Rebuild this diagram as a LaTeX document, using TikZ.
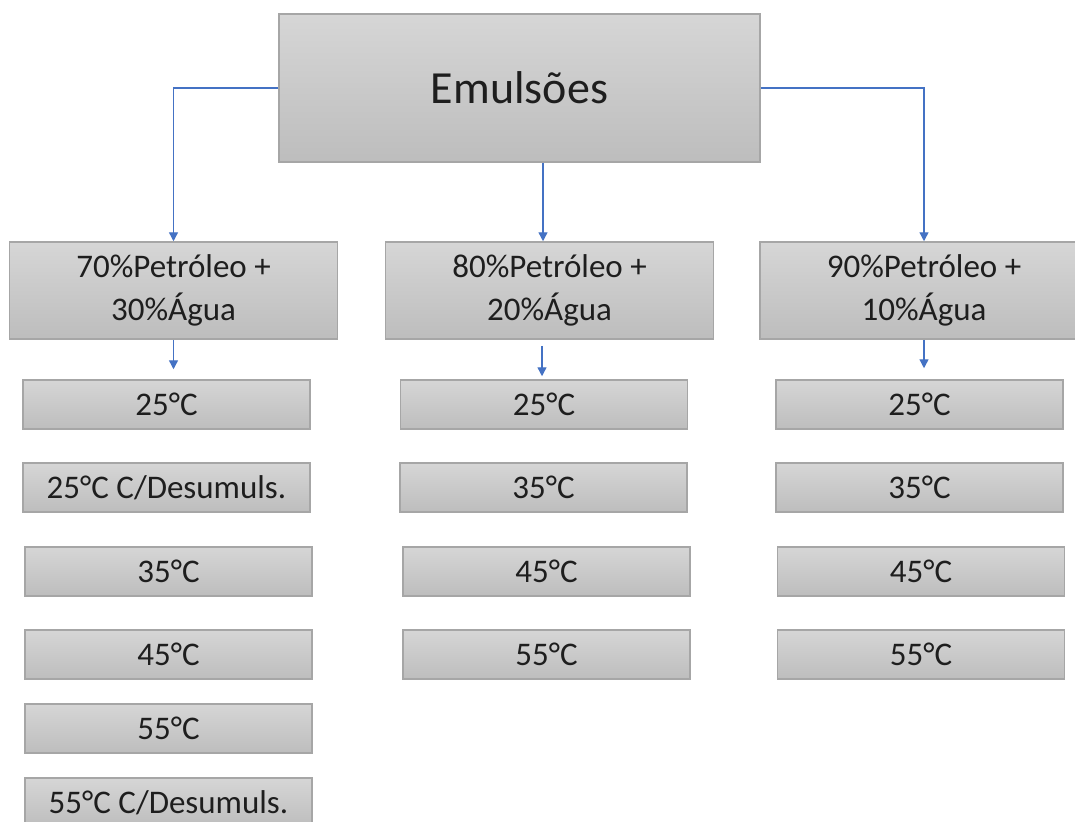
\documentclass[tikz,border=0pt]{standalone}
\usepackage{fontspec}
\setmainfont{Carlito}
\usetikzlibrary{arrows.meta,calc}
\definecolor{boxline}{HTML}{A6A6A6}
\definecolor{boxtop}{HTML}{D6D6D6}
\definecolor{boxbot}{HTML}{BDBDBD}
\definecolor{conn}{HTML}{4472C4}
\definecolor{ink}{HTML}{1E1E1E}
\tikzset{
  gbox/.style={draw=boxline, line width=1.5pt, top color=boxtop, bottom color=boxbot,
    inner sep=0pt, text=ink, align=center},
  rootbox/.style={gbox, minimum width=481pt, minimum height=148pt,
    font=\fontsize{46}{52}\selectfont},
  mixbox/.style={gbox, minimum width=328pt, minimum height=97pt,
    font=\fontsize{33}{43}\selectfont},
  tempbox/.style={gbox, minimum width=287pt, minimum height=49pt,
    font=\fontsize{33}{40}\selectfont},
  link/.style={draw=conn, line width=1.4pt,
    -{Triangle[length=9pt,width=9pt]}},
}
\begin{document}
\begin{tikzpicture}[x=1pt,y=-1pt]
\useasboundingbox (0,0) rectangle (1075,821);
\fill[white] (0,0) rectangle (1075,821);
\clip (0,0) rectangle (1075,821);

% root
\node[rootbox] (root) at (519.5,88) {Emulsões};

% mixtures
\node[mixbox] (m70) at (173.5,290.5) {70\%Petróleo +\\30\%Água};
\node[mixbox] (m80) at (549.5,290.5) {80\%Petróleo +\\20\%Água};
\node[mixbox] (m90) at (924,290.5) {90\%Petróleo +\\10\%Água};

% temperatures, 70/30
\node[tempbox] (a1) at (166.5,404.5) {25°C};
\node[tempbox] (a2) at (166.5,487.5) {25°C C/Desumuls.};
\node[tempbox] (a3) at (168.5,571.5) {35°C};
\node[tempbox] (a4) at (168.5,654.5) {45°C};
\node[tempbox] (a5) at (168.5,728.5) {55°C};
\node[tempbox] (a6) at (168.5,802.5) {55°C C/Desumuls.};

% temperatures, 80/20
\node[tempbox] (b1) at (544,404.5) {25°C};
\node[tempbox] (b2) at (543.5,487.5) {35°C};
\node[tempbox] (b3) at (546.5,571.5) {45°C};
\node[tempbox] (b4) at (546.5,654.5) {55°C};

% temperatures, 90/10
\node[tempbox] (c1) at (919.5,404.5) {25°C};
\node[tempbox] (c2) at (919.5,487.5) {35°C};
\node[tempbox] (c3) at (921,571.5) {45°C};
\node[tempbox] (c4) at (921,654.5) {55°C};

% root to mixtures
\draw[link] (root.west) -| (m70.north);
\draw[link] ($(root.south)+(23.5,0)$) -- ($(m80.north)+(-6.5,0)$);
\draw[link] (root.east) -| (m90.north);

% mixtures to first temperature
\draw[link, shorten >=10pt] (m70.south) -- (m70.south |- a1.north);
\draw[link, shorten >=3pt] ($(m80.south)+(-7.5,6)$) -- ($(m80.south |- b1.north)+(-7.5,0)$);
\draw[link, shorten >=11pt] (m90.south) -- (m90.south |- c1.north);
\end{tikzpicture}
\end{document}
